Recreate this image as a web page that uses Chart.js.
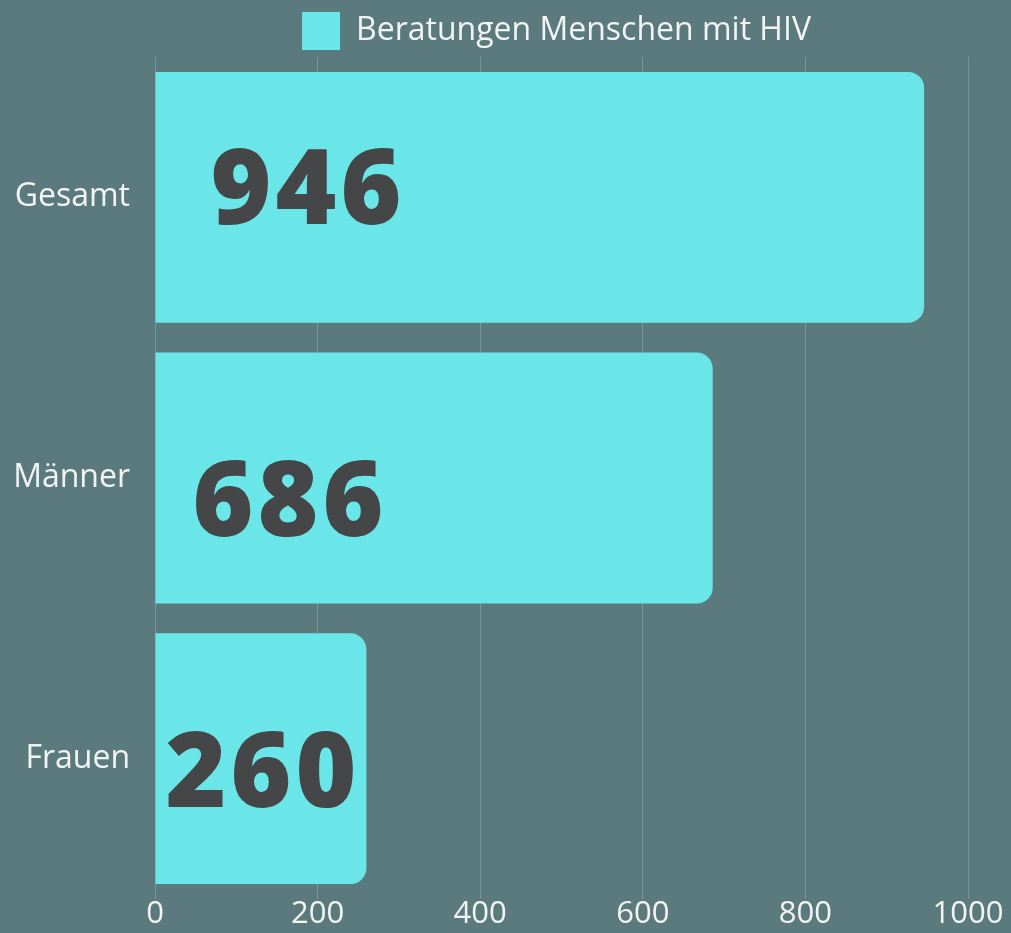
<!DOCTYPE html>
<html>
<head>
<meta charset="utf-8">
<script src="https://cdn.jsdelivr.net/npm/chart.js@4"></script>
<style>
  html, body { margin: 0; padding: 0; background: #5a7a7e; overflow: hidden; }
  canvas { display: block; }
</style>
</head>
<body>
<canvas id="c" width="1011" height="933"></canvas>
<script>
// ─── data ───────────────────────────────
const categories = ['Gesamt', 'Männer', 'Frauen'];
const seriesLabel = 'Beratungen Menschen mit HIV';
const values = [946, 686, 260];
const xTicks = [0, 200, 400, 600, 800, 1000];

// ─── colours ────────────────────────────
const BAR = '#6ae6e8';
const INK = '#f2f4f4';
const VALUE_INK = '#444648';
const GRID = '#7b9699';

// big numbers inside the bars (offsets only nudge text, not the bars)
const valueLabels = {
  id: 'valueLabels',
  afterDatasetsDraw(chart, args, opts) {
    const { ctx } = chart;
    const meta = chart.getDatasetMeta(0);
    ctx.save();
    ctx.font = '800 104px "Open Sans"';
    ctx.letterSpacing = '4px';
    ctx.fillStyle = VALUE_INK;
    ctx.textBaseline = 'middle';
    ctx.textAlign = 'left';
    meta.data.forEach((bar, i) => {
      ctx.fillText(String(values[i]), bar.base + opts.dx[i], bar.y + opts.dy[i]);
    });
    ctx.restore();
  }
};

// legend sits centred over the plot, not the whole canvas
const legendShift = {
  id: 'legendShift',
  afterLayout(chart, args, opts) {
    if (chart.legend) chart.legend.left = opts.left;
  }
};

new Chart(document.getElementById('c'), {
  type: 'bar',
  data: {
    labels: categories,
    datasets: [{
      label: seriesLabel,
      data: values,
      backgroundColor: BAR,
      borderWidth: 0,
      borderRadius: 16,
      categoryPercentage: 1,
      barPercentage: 0.894
    }]
  },
  options: {
    indexAxis: 'y',
    responsive: false,
    animation: false,
    layout: { padding: { top: 4, right: 43, left: 0, bottom: 0 } },
    plugins: {
      legend: {
        position: 'top',
        maxHeight: 53,
        labels: {
          color: INK,
          font: { size: 32, family: 'Open Sans' },
          boxWidth: 38,
          boxHeight: 38,
          padding: 8
        }
      },
      tooltip: { enabled: false },
      legendShift: { left: 145 },
      valueLabels: { dx: [55, 37, 10], dy: [-3, 28, 19] }
    },
    scales: {
      x: {
        min: 0,
        max: 1000,
        afterBuildTicks: (s) => { s.ticks = xTicks.map(v => ({ value: v })); },
        afterFit: (s) => { s.height = 34; },
        ticks: {
          color: INK,
          font: { size: 31, family: 'Open Sans', lineHeight: 1 },
          padding: 0,
          callback: (v) => String(v)
        },
        grid: { color: GRID, lineWidth: 1, drawTicks: false, tickLength: 0 },
        border: { display: false }
      },
      y: {
        afterFit: (s) => { s.width = 155; s.paddingTop = 0; s.paddingBottom = 0; },
        ticks: { color: INK, font: { size: 32, family: 'Open Sans' }, padding: 25 },
        grid: { display: false, drawTicks: false, tickLength: 0 },
        border: { display: false }
      }
    }
  },
  plugins: [valueLabels, legendShift]
});
</script>
</body>
</html>
